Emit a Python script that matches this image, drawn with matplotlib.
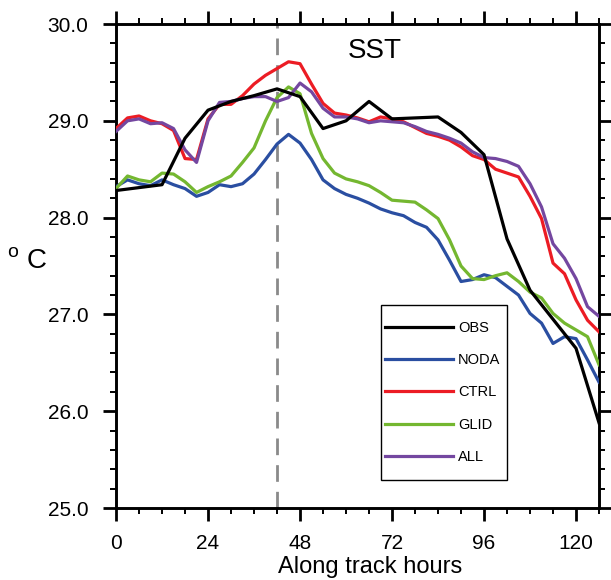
import matplotlib
matplotlib.use("Agg")
import matplotlib.pyplot as plt
import numpy as np
from matplotlib.patches import Rectangle
from matplotlib.ticker import MultipleLocator, FormatStrFormatter

plt.rcParams["font.family"] = ["Liberation Sans", "DejaVu Sans"]
plt.rcParams["mathtext.fontset"] = "custom"
plt.rcParams["mathtext.rm"] = "Liberation Sans"

# model output every 3 hours
hours = np.arange(0, 127, 3)

ctrl = [28.92, 29.03, 29.05, 29.00, 28.97, 28.90, 28.61, 28.60, 29.02, 29.17,
        29.17, 29.26, 29.38, 29.47, 29.54, 29.61, 29.59, 29.38, 29.18, 29.08,
        29.06, 29.03, 28.99, 29.04, 29.02, 28.99, 28.93, 28.87, 28.84, 28.80,
        28.73, 28.64, 28.60, 28.50, 28.46, 28.42, 28.22, 27.99, 27.53, 27.42,
        27.15, 26.94, 26.82]
all_ = [28.89, 29.00, 29.02, 28.97, 28.98, 28.92, 28.70, 28.57, 29.00, 29.19,
        29.20, 29.23, 29.25, 29.25, 29.20, 29.24, 29.39, 29.30, 29.13, 29.04,
        29.04, 29.02, 28.98, 29.00, 28.99, 28.98, 28.94, 28.89, 28.86, 28.82,
        28.77, 28.68, 28.62, 28.61, 28.58, 28.53, 28.35, 28.11, 27.73, 27.58,
        27.37, 27.08, 26.98]
noda = [28.32, 28.39, 28.35, 28.33, 28.39, 28.34, 28.30, 28.22, 28.26, 28.34,
        28.32, 28.35, 28.45, 28.60, 28.76, 28.86, 28.77, 28.60, 28.39, 28.30,
        28.24, 28.20, 28.15, 28.09, 28.05, 28.02, 27.95, 27.90, 27.77, 27.56,
        27.34, 27.36, 27.41, 27.38, 27.29, 27.20, 27.01, 26.91, 26.70, 26.77,
        26.75, 26.53, 26.30]
glid = [28.30, 28.43, 28.39, 28.37, 28.46, 28.45, 28.37, 28.26, 28.32, 28.37,
        28.43, 28.57, 28.72, 29.00, 29.24, 29.35, 29.28, 28.87, 28.61, 28.46,
        28.40, 28.37, 28.33, 28.26, 28.18, 28.17, 28.16, 28.08, 27.99, 27.77,
        27.50, 27.37, 27.36, 27.40, 27.43, 27.34, 27.23, 27.17, 27.01, 26.91,
        26.84, 26.77, 26.48]

# observations
obs_hours = [0, 12, 18, 24, 30, 36, 42, 48, 54, 60, 66, 72, 84, 90, 96, 102,
             108, 114, 120, 126]
obs = [28.28, 28.34, 28.82, 29.11, 29.20, 29.26, 29.33, 29.25, 28.92, 29.00,
       29.20, 29.02, 29.04, 28.88, 28.65, 27.78, 27.25, 26.95, 26.65, 25.88]

mark_hour = 42

fig = plt.figure(figsize=(6.11, 5.80), dpi=100)
ax = fig.add_axes([0.1899, 0.1241, 0.7905, 0.8345])

ax.axvline(mark_hour, color="#8a8a8a", lw=2, dashes=(6, 3.6), zorder=1)

lw = 2.3
ax.plot(obs_hours, obs, color="black", lw=lw, label="OBS", zorder=6)
ax.plot(hours, noda, color="#2a4ea1", lw=lw, label="NODA", zorder=3)
ax.plot(hours, ctrl, color="#ec1c24", lw=lw, label="CTRL", zorder=4)
ax.plot(hours, glid, color="#74b730", lw=lw, label="GLID", zorder=3)
ax.plot(hours, all_, color="#7447a0", lw=lw, label="ALL", zorder=5)

ax.set_xlim(0, 126)
ax.set_ylim(25, 30)
ax.xaxis.set_major_locator(MultipleLocator(24))
ax.xaxis.set_minor_locator(MultipleLocator(6))
ax.yaxis.set_major_locator(MultipleLocator(1))
ax.yaxis.set_minor_locator(MultipleLocator(0.2))
ax.yaxis.set_major_formatter(FormatStrFormatter("%.1f"))

ax.tick_params(which="both", direction="out", top=True, right=True,
               labelsize=15)
ax.tick_params(which="major", length=9.4, width=2)
ax.tick_params(which="minor", length=4.3, width=1.4)
ax.tick_params(axis="x", which="major", pad=9.5)
ax.tick_params(axis="y", which="major", pad=10.5)
for s in ax.spines.values():
    s.set_linewidth(2.1)

ax.set_xlabel("Along track hours", fontsize=17, labelpad=1)
ax.xaxis.set_label_coords(0.526, -0.1, transform=ax.transAxes)
ax.xaxis.label.set_va("top")
ax.set_ylabel("$^{\\mathrm{o}}$ C", fontsize=20, rotation=0,
              ha="center", va="center")
ax.yaxis.set_label_coords(-0.183, 0.509)

ax.text(0.535, 0.9298, "SST", transform=ax.transAxes, ha="center",
        va="baseline", fontsize=20)

# legend box drawn separately, entries placed inside it
ax.add_patch(Rectangle((0.5487, 0.0579), 0.2608, 0.3615,
                       transform=ax.transAxes, fill=True, facecolor="white",
                       edgecolor="black", lw=1, zorder=7))
leg = ax.legend(loc="upper left", bbox_to_anchor=(0.557, 0.387),
                fontsize=10.5, handlelength=4.65, labelspacing=1.26,
                handletextpad=0.35, borderpad=0, borderaxespad=0,
                frameon=False)
leg.set_zorder(8)

fig.savefig("out.png", dpi=100)
